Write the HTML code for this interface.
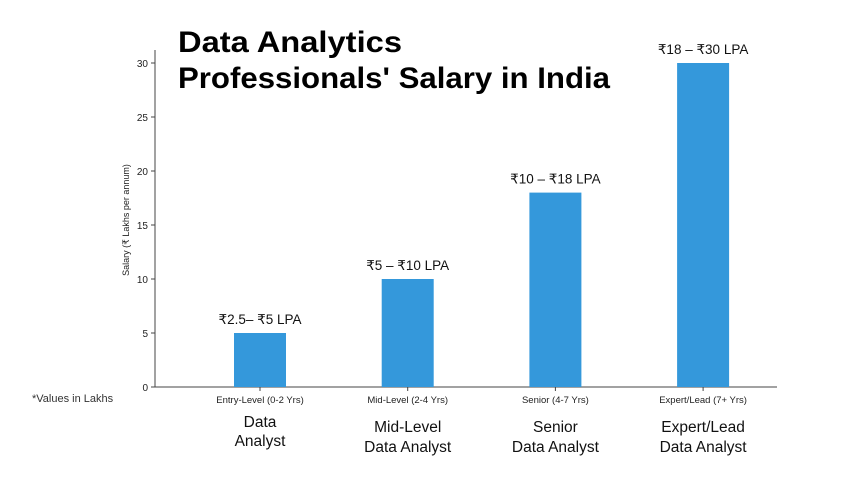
<!DOCTYPE html>
<html><head><meta charset="utf-8">
<style>
body{margin:0;background:#fff;width:848px;height:477px;overflow:hidden;font-family:"Liberation Sans","DejaVu Sans",sans-serif;}
svg{display:block}
</style></head><body>
<svg width="848" height="477">
<g id="g"></g>
<text x="178" y="52" font-size="30" font-weight="bold" fill="#000" textLength="224" lengthAdjust="spacingAndGlyphs">Data Analytics</text>
<text x="178" y="88" font-size="30" font-weight="bold" fill="#000" textLength="432" lengthAdjust="spacingAndGlyphs">Professionals' Salary in India</text>
<text x="32" y="402" font-size="11" fill="#333">*Values in Lakhs</text>
<text transform="translate(129,220) rotate(-90)" text-anchor="middle" font-size="9" fill="#222">Salary (₹ Lakhs per annum)</text>
</svg>
<script>
const categories=["Entry-Level (0-2 Yrs)","Mid-Level (2-4 Yrs)","Senior (4-7 Yrs)","Expert/Lead (7+ Yrs)"];
const values=[5,10,18,30];
const valueLabels=["₹2.5– ₹5 LPA","₹5 – ₹10 LPA","₹10 – ₹18 LPA","₹18 – ₹30 LPA"];
const roleLine1=["Data","Mid-Level","Senior","Expert/Lead"];
const roleLine2=["Analyst","Data Analyst","Data Analyst","Data Analyst"];
const yTicks=[0,5,10,15,20,25,30];
const NS="http://www.w3.org/2000/svg";
const g=document.getElementById('g');
const y=v=>387-v*10.8;
const x=i=>260+i*147.7;
function mk(t,a,txt){const e=document.createElementNS(NS,t);for(const k in a)e.setAttribute(k,a[k]);if(txt!==undefined)e.textContent=txt;g.appendChild(e);return e;}
let e=mk('line',{x1:155,y1:50,x2:155,y2:387,stroke:'#444','stroke-width':1});


e=mk('line',{x1:155,y1:387,x2:777,y2:387,stroke:'#444','stroke-width':1});


yTicks.forEach(t=>{
 e=mk('line',{x1:151,y1:y(t),x2:155,y2:y(t),stroke:'#444'});
 
 
 e=mk('text',{x:148,y:y(t)+4,'text-anchor':'end','font-size':10,fill:'#222'},t);
 
 
});
categories.forEach((c,i)=>{
 const cx=x(i);
 e=mk('rect',{x:cx-26,y:y(values[i]),width:52,height:387-y(values[i]),fill:'#3498db'});
 
 
 e=mk('text',{x:cx,y:y(values[i])-9,'text-anchor':'middle','font-size':13.5,fill:'#111'},valueLabels[i]);
 
 
 e=mk('line',{x1:cx,y1:387,x2:cx,y2:391,stroke:'#444'});
 
 
 e=mk('text',{x:cx,y:403,'text-anchor':'middle','font-size':9.5,fill:'#222'},c);
 
 
 e=mk('text',{x:cx,y:i==0?427:432,'text-anchor':'middle','font-size':15.5,fill:'#111'},roleLine1[i]);
 
 
 e=mk('text',{x:cx,y:i==0?446:452,'text-anchor':'middle','font-size':15.5,fill:'#111'},roleLine2[i]);
 
 
});
</script>
</body></html>
